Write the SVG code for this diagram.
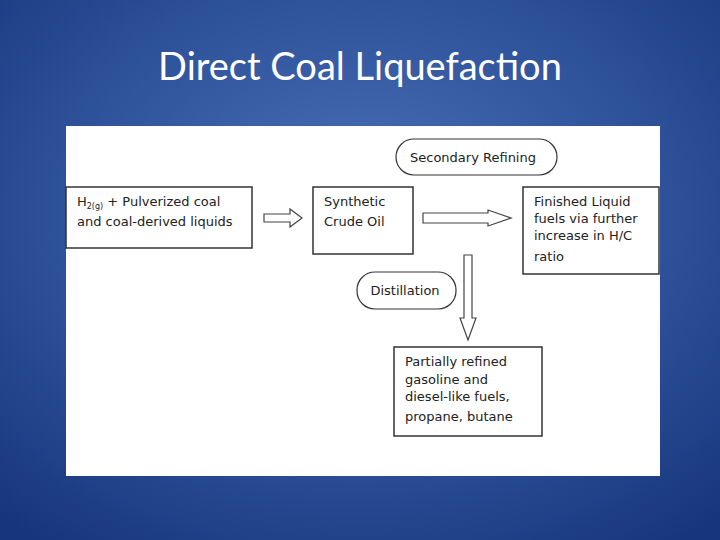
<svg xmlns="http://www.w3.org/2000/svg" width="720" height="540" viewBox="0 0 720 540">
<defs>
<radialGradient id="bg" cx="50%" cy="40%" r="75%">
<stop offset="0" stop-color="#4a72b8"/><stop offset="0.6" stop-color="#2c4f98"/><stop offset="1" stop-color="#17357a"/>
</radialGradient>
<style>
.b{fill:#fff;stroke:#333;stroke-width:1.5}
.t{font-family:"DejaVu Sans",sans-serif;font-size:13px;fill:#222}
.a{fill:#fff;stroke:#444;stroke-width:1.2}
</style>
</defs>
<rect width="720" height="540" fill="url(#bg)"/>
<text x="360" y="80" text-anchor="middle" font-family="Lato,'Open Sans',sans-serif" font-size="38" fill="#fff">Direct Coal Liquefaction</text>
<rect x="66" y="126" width="594" height="350" fill="#fff"/>
<g id="connectors">
<path class="a" d="M264,214 H290 V209 L302,218 L290,227 V222 H264 Z"/>
<path class="a" d="M423,213 H488 V210 L511,218 L488,226 V223 H423 Z"/>
<path class="a" d="M464,255 H472 V318 L476,318 L468,340 L460,318 L464,318 Z"/>
</g>
<g id="n1"><rect class="b" x="66" y="187" width="186" height="61"/>
<text class="t" x="77" y="206">H<tspan font-size="8" dy="3">2(g)</tspan><tspan dy="-3"> + Pulverized coal</tspan></text>
<text class="t" x="77" y="226">and coal-derived liquids</text></g>
<g id="n2"><rect class="b" x="313" y="187" width="100" height="67"/>
<text class="t" x="324" y="206">Synthetic</text><text class="t" x="324" y="226">Crude Oil</text></g>
<g id="n3"><rect class="b" x="523" y="187" width="136" height="87"/>
<text class="t" x="534" y="206">Finished Liquid</text><text class="t" x="534" y="223">fuels via further</text>
<text class="t" x="534" y="240">increase in H/C</text><text class="t" x="534" y="261">ratio</text></g>
<g id="n4"><rect class="b" x="394" y="347" width="148" height="89"/>
<text class="t" x="405" y="366">Partially refined</text><text class="t" x="405" y="384">gasoline and</text>
<text class="t" x="405" y="401">diesel-like fuels,</text><text class="t" x="405" y="421">propane, butane</text></g>
<g id="e1"><rect x="396" y="139" width="161" height="36" rx="18" fill="#fff" stroke="#333" stroke-width="1.2"/>
<text class="t" x="473" y="162" text-anchor="middle" font-size="12">Secondary Refining</text></g>
<g id="e2"><rect x="357" y="272" width="99" height="37" rx="18" fill="#fff" stroke="#333" stroke-width="1.2"/>
<text class="t" x="405" y="295" text-anchor="middle" font-size="12">Distillation</text></g>
</svg>
